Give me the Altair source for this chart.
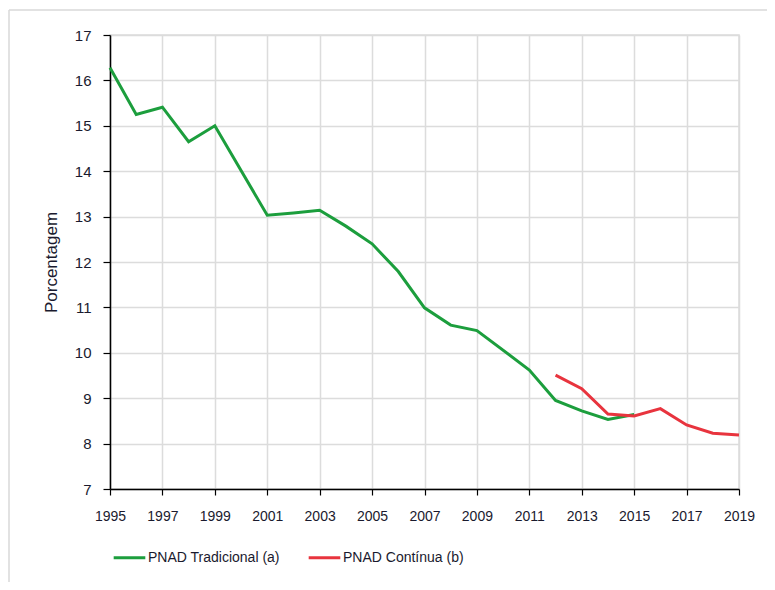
import altair as alt
import pandas as pd

years_trad = [1995, 1996, 1997, 1998, 1999, 2001, 2002, 2003, 2004, 2005, 2006,
              2007, 2008, 2009, 2011, 2012, 2013, 2014, 2015]
vals_trad = [16.28, 15.25, 15.41, 14.65, 15.0, 13.03, 13.08, 13.14, 12.79, 12.4, 11.79,
             10.99, 10.61, 10.49, 9.62, 8.95, 8.72, 8.53, 8.64]
years_cont = [2012, 2013, 2014, 2015, 2016, 2017, 2018, 2019]
vals_cont = [9.51, 9.21, 8.65, 8.61, 8.77, 8.41, 8.23, 8.19]
series_names = ["PNAD Tradicional (a)", "PNAD Contínua (b)"]
series_colors = ["#1c9e3d", "#e8343e"]
x_ticks = list(range(1995, 2020, 2))
y_ticks = list(range(7, 18))

df = pd.concat([
    pd.DataFrame({"ano": years_trad, "valor": vals_trad, "serie": series_names[0]}),
    pd.DataFrame({"ano": years_cont, "valor": vals_cont, "serie": series_names[1]}),
])

FONT = "Liberation Sans"

lines = alt.Chart(df).mark_line(strokeWidth=3).encode(
    x=alt.X("ano:Q",
            scale=alt.Scale(domain=[1995, 2019], nice=False, zero=False),
            axis=alt.Axis(values=x_ticks, format="d", title=None,
                          tickSize=6, labelPadding=14, labelFontSize=14,
                          labelFont=FONT, labelColor="#1a1a2e",
                          domainColor="#000000", tickColor="#000000",
                          domainWidth=1.5, tickWidth=1.2,
                          gridColor="#dcdcdc", gridWidth=1.5,
                          labelFlush=False)),
    y=alt.Y("valor:Q",
            scale=alt.Scale(domain=[7, 17], nice=False, zero=False),
            axis=alt.Axis(values=y_ticks, title="Porcentagem",
                          tickSize=7, labelPadding=12, labelFontSize=15,
                          labelFont=FONT, labelColor="#1a1a2e",
                          titleFont=FONT, titleFontSize=17,
                          titleFontWeight="normal", titleColor="#1a1a2e",
                          titlePadding=14,
                          domainColor="#000000", tickColor="#000000",
                          domainWidth=1.5, tickWidth=1.2,
                          gridColor="#dcdcdc", gridWidth=1.5)),
    color=alt.Color("serie:N",
                    scale=alt.Scale(domain=series_names, range=series_colors),
                    legend=alt.Legend(title=None, orient="none", direction="horizontal",
                                      legendX=2, legendY=505,
                                      symbolType="stroke", symbolSize=1000,
                                      symbolStrokeWidth=3, labelFont=FONT,
                                      labelFontSize=14, labelColor="#1a1a2e",
                                      labelOffset=1, columnPadding=22)),
)

deco = pd.DataFrame({"k": [0]})
frame_top = alt.Chart(deco).mark_rule(
    stroke="#d9d9d9", strokeWidth=1.5, clip=False
).encode(x=alt.value(-101), x2=alt.value(700), y=alt.value(-25))
frame_left = alt.Chart(deco).mark_rule(
    stroke="#d9d9d9", strokeWidth=1.5, clip=False
).encode(x=alt.value(-101), y=alt.value(-25), y2=alt.value(600))

chart = alt.layer(frame_top, frame_left, lines).properties(
    width=629, height=454,
    autosize=alt.AutoSizeParams(type="none"),
    padding={"left": 102, "top": 27, "right": 28, "bottom": 93},
).configure_view(stroke="#dcdcdc", strokeWidth=1.5)

chart.save("out.html", embed_options={"renderer": "svg", "actions": False})
